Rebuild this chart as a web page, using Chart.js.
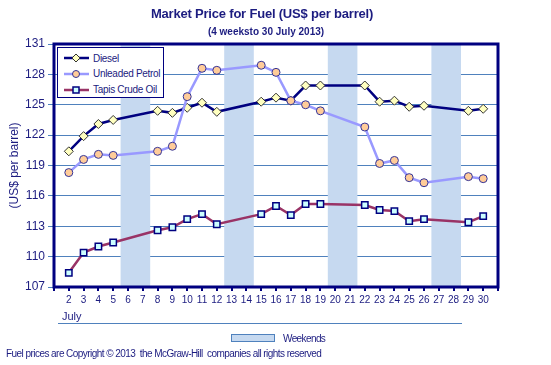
<!DOCTYPE html>
<html lang="en">
<head>
    <meta charset="UTF-8">
    <title>Market Price for Fuel</title>
    <script src="https://cdn.jsdelivr.net/npm/chart.js"></script>
    <style>
        body {
            margin: 0;
            background: #fff;
            font-family: Arial, 'Liberation Sans', sans-serif;
            color: #1c1c80;
        }

        .wrap {
            position: relative;
            width: 551px;
            height: 365px;
        }

        .wrap canvas {
            position: absolute;
            left: 0;
            top: 0;
        }

        .title {
            position: absolute;
            left: 150px;
            width: 224px;
            top: 6px;
            text-align: center;
            font-weight: bold;
            font-size: 13px;
            letter-spacing: -0.2px;
            white-space: nowrap;
        }

        .subtitle {
            position: absolute;
            left: 200px;
            width: 132px;
            top: 26px;
            text-align: center;
            font-weight: bold;
            font-size: 10px;
            white-space: nowrap;
        }

        .legend {
            position: absolute;
            left: 57px;
            top: 47px;
            width: 105px;
            height: 49px;
            border: 1.5px solid #000080;
            background: #fff;
        }

        .legend .item {
            position: absolute;
            left: 5px;
            height: 14px;
            display: flex;
            align-items: center;
            font-size: 10px;
            letter-spacing: -0.3px;
            white-space: nowrap;
        }

        .legend svg {
            margin-right: 3px;
        }

        .month {
            position: absolute;
            left: 62px;
            top: 310px;
            font-size: 11px;
        }

        .month-line {
            position: absolute;
            left: 58px;
            top: 323px;
            width: 404px;
            height: 1px;
            background: #4f81bd;
        }

        .wk-swatch {
            position: absolute;
            left: 231px;
            top: 334px;
            width: 42px;
            height: 6px;
            background: #c6d9f0;
            border: 1px solid #4f81bd;
        }

        .wk-label {
            position: absolute;
            left: 283px;
            top: 333px;
            font-size: 10px;
            letter-spacing: -0.6px;
        }

        .footer {
            position: absolute;
            left: 6px;
            top: 348px;
            font-size: 10px;
            letter-spacing: -0.55px;
            white-space: pre;
        }
    </style>
</head>
<body>

<div class="wrap">
    <canvas id="fuelChart" width="551" height="365"></canvas>
    <div class="title">Market Price for Fuel (US$ per barrel)</div>
    <div class="subtitle">(4 weeksto 30 July 2013)</div>
    <div class="legend" id="legend"></div>
    <div class="month">July</div>
    <div class="month-line"></div>
    <div class="wk-swatch"></div>
    <div class="wk-label">Weekends</div>
    <div class="footer">Fuel prices are Copyright © 2013  the McGraw-Hill  companies all rights reserved</div>
</div>

<script>
    // trading days in July 2013 (weekends have no price)
    const tradingDays = [2, 3, 4, 5, 8, 9, 10, 11, 12, 15, 16, 17, 18, 19, 22, 23, 24, 25, 26, 29, 30];

    const diesel = [120.4, 121.9, 123.1, 123.5, 124.4, 124.2, 124.7, 125.2, 124.3, 125.3, 125.7,
                    125.4, 126.9, 126.9, 126.9, 125.3, 125.4, 124.8, 124.9, 124.4, 124.6];
    const unleaded = [118.3, 119.6, 120.1, 120.0, 120.4, 120.9, 125.8, 128.6, 128.4, 128.9, 128.2,
                      125.4, 125.0, 124.4, 122.8, 119.2, 119.5, 117.8, 117.3, 117.9, 117.7];
    const tapis = [108.4, 110.4, 111.0, 111.4, 112.6, 112.9, 113.7, 114.2, 113.2, 114.2, 115.0,
                   114.1, 115.2, 115.2, 115.1, 114.6, 114.5, 113.5, 113.7, 113.4, 114.0];

    const weekends = [[6, 7], [13, 14], [20, 21], [27, 28]];

    const yTicks = [107, 110, 113, 116, 119, 122, 125, 128, 131];
    const xRange = [1, 31];

    const seriesNames = ['Diesel', 'Unleaded Petrol', 'Tapis Crude Oil'];

    const navy = '#000080';
    const gridBlue = '#4f81bd';
    const textBlue = '#1c1c80';

    function points(values) {
        return tradingDays.map((d, i) => ({ x: d, y: values[i] }));
    }

    const series = [
        { label: seriesNames[0], data: diesel, line: navy, fill: '#ffffc0', edge: '#333333', style: 'rectRot', r: 4.5, order: 1 },
        { label: seriesNames[1], data: unleaded, line: '#9999ff', fill: '#ffcc99', edge: '#333399', style: 'circle', r: 4, order: 0 },
        { label: seriesNames[2], data: tapis, line: '#993366', fill: '#ccffff', edge: navy, style: 'rect', r: 4.5, order: 2 }
    ];

    // light blue bands behind the lines for weekends
    const weekendBands = {
        id: 'weekendBands',
        beforeDatasetsDraw(chart) {
            const { ctx, chartArea, scales } = chart;
            ctx.save();
            ctx.fillStyle = '#c6d9f0';
            weekends.forEach(([a, b]) => {
                const x1 = scales.x.getPixelForValue(a - 0.5);
                const x2 = scales.x.getPixelForValue(b + 0.5);
                ctx.fillRect(x1, chartArea.top, x2 - x1, chartArea.bottom - chartArea.top);
            });
            ctx.restore();
        }
    };

    // thick frame round the plot
    const plotFrame = {
        id: 'plotFrame',
        afterDatasetsDraw(chart) {
            const { ctx, chartArea } = chart;
            ctx.save();
            ctx.strokeStyle = navy;
            ctx.lineWidth = 3;
            ctx.strokeRect(chartArea.left, chartArea.top, chartArea.right - chartArea.left, chartArea.bottom - chartArea.top);
            ctx.restore();
        }
    };

    function buildLegend() {
        const box = document.getElementById('legend');
        series.forEach((s, i) => {
            let marker = '';
            if (s.style === 'rectRot') {
                marker = `<polygon points="13,2 17,6 13,10 9,6" fill="${s.fill}" stroke="${s.edge}" stroke-width="1"/>`;
            } else if (s.style === 'circle') {
                marker = `<circle cx="13" cy="6" r="3.5" fill="${s.fill}" stroke="${s.edge}" stroke-width="1"/>`;
            } else {
                marker = `<rect x="10" y="3" width="6" height="6" fill="${s.fill}" stroke="${s.edge}" stroke-width="1.5"/>`;
            }
            const item = document.createElement('div');
            item.className = 'item';
            item.style.top = (3 + i * 15.8) + 'px';
            item.innerHTML = `<svg width="27" height="12"><line x1="1" y1="6" x2="26" y2="6" stroke="${s.line}" stroke-width="2.5"/>${marker}</svg>${s.label}`;
            box.appendChild(item);
        });
    }

    function createChart() {
        const ctx = document.getElementById('fuelChart').getContext('2d');
        new Chart(ctx, {
            type: 'line',
            data: {
                datasets: series.map(s => ({
                    label: s.label,
                    data: points(s.data),
                    borderColor: s.line,
                    borderWidth: 2.5,
                    pointStyle: s.style,
                    pointRadius: s.r,
                    pointBackgroundColor: s.fill,
                    pointBorderColor: s.edge,
                    pointBorderWidth: s.style === 'rect' ? 1.5 : 1,
                    tension: 0,
                    order: s.order
                }))
            },
            options: {
                responsive: false,
                devicePixelRatio: 1,
                animation: false,
                layout: {
                    padding: { top: 44, right: 53, left: 0, bottom: 0 }
                },
                plugins: {
                    legend: { display: false },
                    title: { display: false },
                    tooltip: { enabled: false }
                },
                scales: {
                    x: {
                        type: 'linear',
                        min: xRange[0],
                        max: xRange[1],
                        afterFit(scale) { scale.height = 78; },
                        afterBuildTicks(scale) {
                            const t = [];
                            for (let d = xRange[0]; d <= xRange[1]; d++) t.push({ value: d });
                            scale.ticks = t;
                        },
                        ticks: {
                            autoSkip: false,
                            maxRotation: 0,
                            padding: 3,
                            color: textBlue,
                            font: { family: 'Arial', size: 10 },
                            callback: v => (v === xRange[0] || v === xRange[1]) ? '' : String(v)
                        },
                        grid: {
                            drawOnChartArea: false,
                            color: navy,
                            lineWidth: 2,
                            tickLength: 4
                        },
                        border: { display: false }
                    },
                    y: {
                        min: yTicks[0],
                        max: yTicks[yTicks.length - 1],
                        afterFit(scale) { scale.width = 54; },
                        afterBuildTicks(scale) {
                            scale.ticks = yTicks.map(v => ({ value: v }));
                        },
                        ticks: {
                            padding: 3,
                            color: textBlue,
                            font: { family: 'Arial', size: 12 }
                        },
                        grid: {
                            color: gridBlue,
                            lineWidth: 1,
                            tickLength: 6
                        },
                        border: { display: false },
                        title: {
                            display: true,
                            text: '(US$ per barrel)',
                            color: textBlue,
                            font: { family: 'Arial', size: 12 },
                            padding: { top: 7, bottom: 0 }
                        }
                    }
                }
            },
            plugins: [weekendBands, plotFrame]
        });
    }

    window.onload = function() {
        buildLegend();
        createChart();
    };
</script>

</body>
</html>
